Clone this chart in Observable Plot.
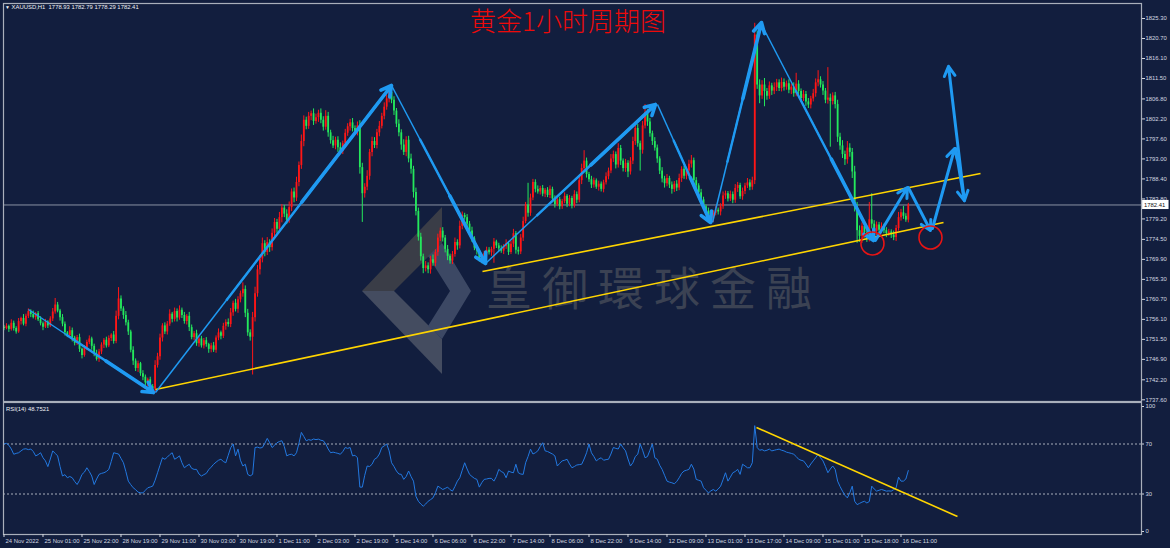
<!DOCTYPE html>
<html><head><meta charset="utf-8">
<script src="https://cdn.jsdelivr.net/npm/d3@7"></script>
<script src="https://cdn.jsdelivr.net/npm/@observablehq/plot@0.6"></script>
<style>
html,body{margin:0;padding:0;background:#121e3e;}
#wrap{position:relative;width:1170px;height:548px;background:#121e3e;overflow:hidden;font-family:"Liberation Sans",Arial,sans-serif;}
#main,#rsi{position:relative;z-index:2;}
#main svg,#rsi svg{display:block;overflow:visible;}
.ov{position:absolute;pointer-events:none;white-space:nowrap;}
#logo{left:0;top:0;z-index:0;}
#wm{left:486px;top:262px;z-index:1;font-family:"Noto Sans CJK TC","Noto Sans CJK SC",sans-serif;font-size:46px;line-height:46px;letter-spacing:10px;color:#3b4253;}
#title{left:470px;top:6px;z-index:3;font-family:"Noto Sans CJK SC",sans-serif;font-weight:300;font-size:26px;line-height:28px;color:#ee0a0a;}
#hdr{left:5px;top:3px;z-index:3;font-size:5.9px;line-height:9px;color:#eef0f5;}
#rsilab{left:6px;top:405px;z-index:3;font-size:5.9px;line-height:9px;color:#eef0f5;}
</style></head>
<body>
<div id="wrap">
  <svg id="logo" class="ov" width="1170" height="548">
    <polygon points="442,207 442,243 394,291 362,291" fill="#3a3d47"/>
    <polygon points="362,291 394,291 442,339 442,374" fill="#444c60"/>
    <polygon points="442,243 471,291 442,339 428,326 450,291 428,256" fill="#3c4864"/>
  </svg>
  <div id="wm" class="ov">皇御環球金融</div>
  <div id="main"></div>
  <div id="rsi"></div>
  <div id="title" class="ov">黄金1小时周期图</div>
  <div id="hdr" class="ov"><span style="font-size:5px">▼</span> XAUUSD,H1&nbsp; 1778.93 1782.79 1778.29 1782.41</div>
  <div id="rsilab" class="ov">RSI(14) 48.7521</div>
</div>
<script>
// ---------------- DATA ----------------
// hourly bars, index 0 .. 371 (24 Nov 2022 -> 16 Dec 2022 14:00)
const firstOpen = 1754.3;
const closes = [
1754.0,1754.5,1753.8,1755.2,1754.0,1753.2,1755.6,1756.3,1755.0,1756.8,1757.9,
1757.2,1756.5,1757.4,1756.0,1755.1,1754.3,1755.5,1754.6,1756.2,1757.8,
1759.4,1758.0,1756.5,1755.0,1753.0,1752.4,1753.5,1751.8,1750.6,1751.9,
1749.2,1747.8,1749.5,1750.8,1751.6,1749.9,1748.1,1746.9,1748.6,1750.2,
1751.3,1750.0,1751.7,1752.5,1751.0,1756.8,1760.8,1758.5,1757.0,1755.3,
1753.2,1749.0,1746.5,1744.8,1745.9,1743.6,1742.8,1741.5,1742.2,1740.6,
1740.1,1745.5,1747.5,1751.8,1754.6,1753.2,1755.0,1757.3,1756.1,1757.9,
1756.4,1758.2,1757.0,1755.6,1756.8,1754.2,1751.9,1752.8,1750.5,1751.6,
1750.0,1751.2,1750.3,1749.2,1750.0,1749.0,1751.8,1753.0,1752.2,1754.5,
1755.4,1754.9,1757.6,1759.8,1758.4,1760.6,1762.0,1763.0,1757.5,1753.0,
1752.0,1756.5,1762.0,1767.5,1770.0,1773.5,1771.5,1773.8,1772.6,1775.9,
1778.4,1776.8,1779.5,1781.7,1780.3,1778.9,1781.8,1785.4,1784.0,1787.6,
1791.5,1797.0,1801.9,1800.5,1802.8,1803.4,1801.6,1802.5,1803.5,1801.9,
1800.3,1802.8,1799.0,1797.2,1796.0,1797.3,1795.6,1794.8,1796.5,1798.9,
1800.4,1801.3,1800.0,1799.2,1800.6,1791.0,1785.0,1786.5,1789.0,1794.5,
1797.0,1796.1,1799.0,1800.5,1802.8,1804.9,1806.8,1808.3,1806.5,1804.0,
1801.0,1799.0,1796.2,1794.5,1797.3,1793.0,1790.6,1785.3,1780.9,1775.0,
1770.5,1767.8,1768.4,1767.5,1769.8,1769.0,1771.5,1774.8,1776.4,1774.8,
1772.2,1770.6,1769.5,1771.0,1773.8,1773.0,1777.5,1780.0,1779.5,1778.0,
1776.4,1774.6,1772.5,1771.8,1770.0,1769.7,1771.2,1772.0,1771.4,1772.2,
1773.9,1773.0,1772.3,1771.8,1772.8,1773.5,1771.5,1773.4,1775.8,1772.0,
1771.6,1774.8,1778.6,1782.4,1780.5,1784.0,1787.6,1786.0,1785.4,1786.2,
1784.9,1785.8,1784.6,1786.0,1783.8,1782.5,1783.6,1782.0,1783.2,1784.4,
1782.6,1783.9,1782.2,1784.8,1783.5,1788.0,1790.8,1792.5,1789.4,1788.2,
1787.0,1788.0,1786.5,1787.2,1786.0,1787.5,1788.9,1790.2,1793.0,1794.0,
1791.6,1795.4,1792.5,1790.8,1792.0,1790.0,1792.5,1797.0,1800.0,1796.5,
1795.0,1800.6,1803.6,1801.5,1798.8,1797.0,1795.5,1793.0,1790.2,1788.4,
1787.3,1788.5,1787.0,1786.0,1787.2,1786.3,1788.5,1790.6,1789.0,1790.2,
1791.8,1792.6,1788.0,1786.8,1785.2,1783.6,1782.0,1781.0,1779.9,1779.2,
1780.5,1781.2,1780.8,1782.0,1784.5,1785.0,1783.8,1784.8,1783.5,1786.2,
1786.9,1784.3,1785.5,1786.8,1787.5,1786.5,1788.0,1821.5,1810.0,1807.5,
1810.0,1808.5,1807.4,1809.8,1808.6,1809.4,1810.5,1809.2,1810.6,1809.5,
1810.3,1808.8,1809.5,1808.0,1810.2,1808.5,1806.9,1807.8,1806.1,1805.4,
1806.8,1808.0,1810.5,1811.2,1810.0,1808.6,1806.5,1807.0,1806.2,1807.5,
1805.5,1798.0,1796.0,1794.0,1792.8,1795.5,1794.5,1790.0,1782.0,1776.5,
1775.2,1777.5,1776.0,1774.8,1779.0,1778.0,1776.3,1777.8,1776.6,1777.5,
1776.5,1775.8,1776.2,1775.5,1774.9,1777.0,1779.5,1780.6,1779.8,1778.93,
1782.41];
// wick above the body / below the body
const upWick = [
0.4,0.6,0.3,0.8,0.5,0.4,0.7,0.3,0.9,0.5,0.6,0.4,0.8,0.3,0.5,0.7,0.4,0.6,0.3,0.5,
0.8,1.5,0.6,0.4,0.7,0.5,0.3,0.9,0.6,0.4,0.5,0.8,0.3,0.6,0.5,0.7,0.4,0.5,0.9,0.6,
0.5,0.4,0.7,0.6,0.3,0.8,1.2,2.6,0.7,0.5,0.9,0.6,0.4,0.8,0.5,0.6,0.3,0.7,0.5,0.4,
0.6,0.5,1.1,0.8,0.9,0.5,0.7,0.6,1.0,0.4,0.8,0.6,1.0,0.5,0.7,0.4,0.9,0.6,0.5,0.8,
0.4,0.6,0.5,0.7,0.3,0.6,0.8,0.5,0.9,0.4,0.7,0.6,0.8,1.0,0.5,0.9,0.7,0.6,1.5,0.8,
0.9,0.7,1.2,1.5,1.0,0.8,1.3,0.7,1.1,0.6,1.0,0.9,0.7,1.2,0.8,0.6,1.0,1.3,0.7,0.9,
1.2,0.8,1.5,1.0,0.7,0.9,0.6,1.1,0.8,0.7,1.0,0.8,1.3,0.9,0.6,1.0,0.7,0.8,1.1,0.6,
0.9,0.7,0.8,1.0,0.6,0.9,1.2,1.0,0.8,1.3,0.7,1.0,0.9,0.8,1.1,0.7,1.0,0.9,0.8,1.6,
0.8,0.6,1.0,0.7,1.2,0.8,0.9,1.1,0.7,1.0,0.8,0.9,0.6,1.0,0.7,0.8,1.1,0.6,0.9,0.7,
0.8,0.6,0.9,0.5,0.7,1.0,0.6,1.2,0.8,0.5,0.7,0.6,0.9,0.5,0.6,0.4,0.8,0.5,0.7,0.6,
0.5,0.8,0.4,0.6,0.7,0.5,0.9,0.4,0.6,1.0,0.5,0.7,0.8,1.0,0.6,5.0,0.9,0.7,0.6,0.8,
0.5,0.7,0.4,0.6,0.8,0.5,0.7,0.4,0.6,0.5,0.8,0.4,0.7,0.5,0.9,0.6,0.8,1.0,2.4,0.7,
0.5,0.8,0.6,0.4,0.7,0.5,0.6,0.9,0.7,1.0,0.8,0.6,1.1,0.7,0.5,0.9,0.6,0.8,1.0,0.7,
0.9,0.6,1.0,1.9,0.7,0.8,0.6,0.9,0.7,0.5,0.8,0.6,0.9,0.5,0.7,0.6,0.8,1.0,0.6,0.7,
0.8,0.9,1.2,0.6,0.7,0.5,0.8,0.6,0.4,0.7,0.5,0.6,0.8,0.5,0.7,0.9,0.6,0.5,0.8,0.6,
0.9,0.7,0.5,0.8,0.6,1.0,0.7,0.8,2.7,0.9,1.2,1.0,1.5,0.7,0.9,0.6,1.1,0.8,0.7,1.0,
0.8,0.6,0.9,0.7,1.0,2.5,0.8,0.6,0.9,0.7,0.8,0.6,1.0,0.9,2.1,0.7,0.8,0.6,7.0,0.9,
0.7,0.8,1.0,0.9,1.2,0.8,1.5,1.0,0.9,1.3,1.0,1.1,0.8,0.7,0.9,4.0,6.0,0.8,0.7,0.6,
0.8,0.5,0.7,0.6,0.5,0.9,0.7,1.2,0.8,1.5,0.6,0.38];
const downWick = [
0.5,0.3,0.7,0.4,0.6,0.5,0.3,0.8,0.4,0.6,0.5,0.7,0.3,0.6,0.4,0.5,0.8,0.3,0.6,0.4,
0.6,0.5,0.4,0.8,0.6,0.7,0.5,0.4,0.9,0.6,0.5,0.7,0.8,0.4,0.6,0.5,0.9,0.6,0.4,0.7,
0.6,0.8,0.5,0.4,0.7,0.6,0.5,0.8,0.6,0.9,0.7,0.8,0.6,1.0,0.7,0.9,0.6,0.8,0.7,0.9,
0.7,0.8,1.0,0.6,0.8,0.9,0.6,0.7,0.5,0.8,0.6,0.9,0.5,0.7,0.6,0.8,0.9,0.5,0.7,0.6,
0.8,0.5,0.7,0.6,0.9,0.8,0.5,0.7,0.6,0.8,0.5,0.9,0.6,0.7,0.8,0.6,0.9,0.7,0.8,1.0,
0.8,0.9,8.7,1.0,0.8,1.2,0.9,1.0,0.7,1.1,0.8,1.0,0.9,0.7,1.2,0.8,1.0,0.7,0.9,1.1,
0.8,1.0,0.9,1.2,0.8,0.7,1.0,0.9,0.6,1.1,0.8,0.9,0.7,1.0,0.8,0.6,0.9,1.1,0.7,0.8,
0.9,0.7,1.0,0.8,0.6,0.9,1.5,6.6,1.0,0.8,0.9,1.0,0.7,0.8,0.9,0.6,0.8,0.7,0.9,0.8,
1.0,0.8,0.9,1.2,0.7,1.0,0.9,1.1,1.3,1.0,0.9,1.0,1.2,0.8,0.9,1.0,0.7,0.8,0.9,0.8,
0.9,0.8,1.0,0.7,0.8,0.6,1.0,0.7,0.8,0.6,0.9,0.7,0.8,0.6,0.9,0.7,0.8,0.6,0.7,0.5,
0.8,3.2,0.6,0.7,0.5,0.8,0.6,0.7,0.5,0.8,0.9,0.7,0.6,0.8,0.5,0.9,0.7,0.6,0.8,0.5,
0.7,0.6,0.8,0.5,0.7,0.6,0.8,0.5,0.7,0.6,0.5,0.8,0.6,0.7,0.5,0.8,0.6,0.9,0.7,0.8,
0.6,0.8,0.7,0.5,0.9,0.6,0.8,0.5,0.7,0.6,0.8,0.9,0.7,1.0,0.8,0.9,1.3,0.7,0.8,0.9,
0.8,4.8,0.9,0.7,1.0,0.8,0.9,0.7,1.0,0.8,0.9,1.0,0.7,0.8,1.1,0.7,0.8,0.6,0.9,0.7,
0.8,0.6,0.9,0.7,0.8,0.9,0.7,0.8,0.9,0.7,1.0,0.8,0.6,0.7,0.9,0.6,0.8,0.7,0.6,0.8,
0.7,0.9,0.6,0.8,0.7,0.6,0.8,0.7,0.9,1.0,1.8,0.8,3.5,0.9,0.7,1.0,0.8,0.9,0.7,0.8,
0.9,0.7,0.8,1.0,0.8,0.7,0.9,0.8,0.7,1.0,0.8,0.9,0.7,0.8,0.9,0.7,1.0,0.8,0.9,10.5,
0.8,1.0,1.2,1.0,0.9,1.3,1.0,1.1,1.5,1.2,2.9,1.4,1.6,1.2,1.0,0.9,1.1,0.8,1.0,0.9,
0.8,0.7,0.9,0.6,0.8,0.7,0.9,0.6,0.8,0.7,0.5,0.64];
// RSI(14) per bar
const rsi = [
70,70.5,69,66,61.8,62.5,63,64.5,65.9,66.2,
65.5,66,64,60.5,61.5,63,59,56.5,51.9,58,
64.5,62.5,60.5,52,44.4,45.5,43,44,43,40,
37.6,41,45.7,47.5,51,48,44.4,37.6,42,45.7,
46.5,47,48,49.7,56,63,62.5,62,58.5,55,
48,40.3,37.5,35,33.5,31.5,31,30.9,33,35,
35.6,36.3,41,47,53,59,57.8,59.5,61.5,63,
57.8,59,60.5,55,51,52.5,53.8,50.5,49.7,49.7,
46,44.4,45.5,46.5,49.5,51.5,53.8,55.5,57,57.8,
56,55,61,67,70,60.5,65.9,57,52.4,53.8,
45.7,44.5,45.7,67.2,67.5,66.8,67.2,70.5,74.5,71,
67.2,69,71,72,72.6,68,60.5,61.5,61.8,60.5,
63,70.5,79.3,76,72.6,73.5,73,74,73.5,73.9,
73,72.6,70,66,63,63.5,63,62.5,61.8,64,
67.2,66.5,67.2,60.5,61,59,35.5,35.5,45,52.4,
52,53.8,57.8,59,62,67.2,68.5,70,64.5,55,
52,48.4,46,45.7,41.7,44,48.4,44,40.3,28.2,
24.2,22,20.2,22,24.2,25.5,26.9,31,36.3,35,
33.6,34.5,35.5,33.5,32.3,36,40.3,43,49,55,
50,45.7,44,42.5,41.7,35.5,39,41.7,42,42.5,
42.5,40.3,44,49.7,48,47,43,48.4,47.5,47,
53.8,47,46,45.7,55,60,65.9,62,63,64.5,
68,71,64.5,64,63,62,60.5,52.4,54.5,56.5,
57,57.8,54,51,52,53.2,53.5,53.8,58,63,
70,63,60,56.5,58,59,57,57.5,57.8,62,
67.2,66.5,66,70,67,64.5,58,52.4,55,60,
61.8,70,65,59,60,65,70,59,57.8,53,
49.7,45,40.3,39.5,39,38.2,40,43,46.5,48.4,
49,49.7,53.8,50,41.7,41,40.3,35,33,30.9,
32.5,33.6,32.3,34,36.3,41.5,47,40.3,43.5,47,
48,49.7,45.7,53.8,52.5,51,51,55,84.7,67.2,
65,65.5,64.5,65,65.9,64.5,65,65.5,65.9,65,
64.5,63.5,63,62.5,61.8,60,57.8,57,56.5,54,
51,54,56.5,59,61.8,59,56.5,52,47,50,
52.4,49.7,40.3,36,32.3,29,26.9,31,36.3,24.2,
21.5,22.5,23.5,24.2,22.8,24,36.3,34,32.3,33,
33.6,33,32.3,32.5,32.3,33.5,35,43.5,40.3,40.3,
42,48.75];
// price axis ticks and time labels (one label every 16 bars)
const priceTicks = [1825.3,1820.7,1816.1,1811.5,1806.8,1802.2,1797.6,1793.0,1788.4,1783.8,1779.2,1774.5,1769.9,1765.3,1760.7,1756.1,1751.5,1746.9,1742.2,1737.6];
const rsiTicks = [0,30,70,100];
const rsiLevels = [70,30];
const timeLabels = ["24 Nov 2022","25 Nov 01:00","25 Nov 22:00","28 Nov 19:00","29 Nov 11:00","30 Nov 03:00","30 Nov 19:00","1 Dec 11:00","2 Dec 03:00","2 Dec 19:00","5 Dec 14:00","6 Dec 06:00","6 Dec 22:00","7 Dec 14:00","8 Dec 06:00","8 Dec 22:00","9 Dec 14:00","12 Dec 09:00","13 Dec 01:00","13 Dec 17:00","14 Dec 09:00","15 Dec 01:00","15 Dec 18:00","16 Dec 11:00"];
const barsPerLabel = 16;
// drawn annotations (bar index, price)
const longArrows = [
  {x1:10.05,y1:1758.37,x2:61.33,y2:1739.28},
  {x1:62.15,y1:1739.28,x2:158.97,y2:1809.89},
  {x1:159.0,y1:1809.89,x2:197.54,y2:1768.95},
  {x1:197.54,y1:1768.95,x2:267.28,y2:1805.52},
  {x1:268.1,y1:1805.52,x2:289.85,y2:1778.38},
  {x1:290.67,y1:1778.38,x2:310.77,y2:1824.38},
  {x1:311.2,y1:1823.46,x2:356.72,y2:1774.24}
];
const shortArrows = [
  {x1:357.5,y1:1774.24,x2:370.6,y2:1786.43},
  {x1:371.0,y1:1786.43,x2:380.1,y2:1776.54},
  {x1:380.9,y1:1777.0,x2:390.0,y2:1795.4},
  {x1:390.4,y1:1795.4,x2:394.0,y2:1783.4},
  {x1:394.0,y1:1783.4,x2:387.5,y2:1814.3}
];
const trendLines = [
  {x1:62.15,y1:1739.97,x2:385.44,y2:1778.38},
  {x1:196.31,y1:1767.11,x2:400.62,y2:1789.65}
];
const rsiTrend = [{x1:308.72,y1:83.2,x2:391.18,y2:12.0}];
const circles = [{x:356.3,y:1773.55},{x:380.1,y:1774.93}];

// ---------------- CHART ----------------
if (closes.length !== 372 || upWick.length !== 372 || downWick.length !== 372 || rsi.length !== 372)
  throw new Error("lengths " + [closes.length, upWick.length, downWick.length, rsi.length]);

const UP = "#ff1616", DOWN = "#24e85c", BLUE = "#1f9af2", YELLOW = "#ffd500", AXIS = "#d4d8e0", FRAME = "#a9afbb";
const FONT = "Liberation Sans, Arial, sans-serif";
const xDomain = [-0.2, 466.67];

const bars = closes.map((c, i) => {
  const o = i === 0 ? firstOpen : closes[i - 1];
  return {i, o, c, h: Math.max(o, c) + upWick[i], l: Math.min(o, c) - downWick[i], up: c >= o};
});
const last = bars[bars.length - 1];
const part = (a, t) => ({x1: a.x1 + (a.x2 - a.x1) * t, y1: a.y1 + (a.y2 - a.y1) * t, x2: a.x2, y2: a.y2});
const shaftThin = longArrows.map(a => part(a, 0));
const shaftMid = longArrows.map(a => part(a, 0.3));
const shaftHead = longArrows.map(a => part(a, 0.62));
const xTicks = timeLabels.map((_, k) => k * barsPerLabel);
const L = {x1: "x1", y1: "y1", x2: "x2", y2: "y2"};

const main = Plot.plot({
  width: 1170, height: 401,
  marginLeft: 3, marginRight: 29, marginTop: 3, marginBottom: 0,
  style: {background: "transparent", color: AXIS, fontFamily: FONT, fontSize: "5.9px", overflow: "visible"},
  x: {domain: xDomain, axis: null},
  y: {domain: [1737.21, 1828.75], axis: "right", ticks: priceTicks, tickFormat: d => d.toFixed(2), tickSize: 3, tickPadding: 1, label: null},
  marks: [
    Plot.ruleY([last.c], {stroke: "#8a92a3", strokeWidth: 1}),
    Plot.ruleX(bars, {x: "i", y1: "l", y2: "h", stroke: d => d.up ? UP : DOWN, strokeWidth: 1}),
    Plot.ruleX(bars, {x: "i", y1: "o", y2: "c", stroke: d => d.up ? UP : DOWN, strokeWidth: 1.8}),
    Plot.link(trendLines, {...L, stroke: YELLOW, strokeWidth: 1.6}),
    Plot.link(shaftThin, {...L, stroke: BLUE, strokeWidth: 1.5}),
    Plot.link(shaftMid, {...L, stroke: BLUE, strokeWidth: 2.4}),
    Plot.arrow(shaftHead, {...L, stroke: BLUE, strokeWidth: 3.6, headLength: 4.8, headAngle: 58}),
    Plot.arrow(shortArrows, {...L, stroke: BLUE, strokeWidth: 3, headLength: 5.5, headAngle: 58}),
    Plot.dot(circles, {x: "x", y: "y", r: 11.5, stroke: "#e81414", strokeWidth: 1.6, fill: "none"}),
    Plot.frame({stroke: FRAME, strokeWidth: 1.2}),
    Plot.rect([last], {x1: () => xDomain[1] + 0.45, x2: () => xDomain[1] + 11.3, y1: d => d.c - 1.05, y2: d => d.c + 1.05, fill: "#ffffff"}),
    Plot.text([last], {x: () => xDomain[1] + 1.0, y: "c", text: d => d.c.toFixed(2), textAnchor: "start", fill: "#101010", fontSize: 5.9})
  ]
});
document.getElementById("main").append(main);

const rsiRows = rsi.map((v, i) => ({i, v}));
const rsiPlot = Plot.plot({
  width: 1170, height: 147,
  marginLeft: 3, marginRight: 29, marginTop: 1, marginBottom: 14,
  style: {background: "transparent", color: AXIS, fontFamily: FONT, fontSize: "5.9px", overflow: "visible"},
  x: {domain: xDomain, axis: null},
  y: {domain: [-2.4, 103.2], axis: "right", ticks: rsiTicks, tickSize: 2, tickPadding: 2, label: null},
  marks: [
    Plot.ruleY(rsiLevels, {stroke: "#a7adba", strokeWidth: 1, strokeDasharray: "2,2"}),
    Plot.line(rsiRows, {x: "i", y: "v", stroke: "#2278e0", strokeWidth: 1}),
    Plot.link(rsiTrend, {...L, stroke: YELLOW, strokeWidth: 1.6}),
    Plot.frame({stroke: FRAME, strokeWidth: 1.2}),
    Plot.ruleX(xTicks, {x: d => d, y1: -2.4, y2: -4.8, stroke: AXIS, strokeWidth: 1}),
    Plot.text(xTicks, {x: d => d, frameAnchor: "bottom", dy: 8, dx: 1.5, text: (d, i) => timeLabels[i], textAnchor: "start", fill: AXIS, fontSize: 5.9})
  ]
});
document.getElementById("rsi").append(rsiPlot);
</script>
</body></html>
